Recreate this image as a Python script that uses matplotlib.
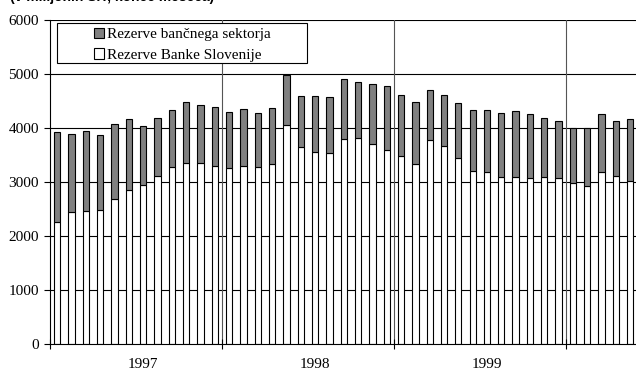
import numpy as np
import matplotlib.pyplot as plt
from matplotlib.patches import Patch, Rectangle

# --- Monthly reserves, Jan 1997 - May 2000 (mio SIT) ---
years = ['1997', '1998', '1999']
banka_slovenije = [
    2248, 2433, 2452, 2476, 2686, 2846, 2939, 3100, 3272, 3352, 3340, 3296,
    3248, 3290, 3272, 3333, 4044, 3643, 3550, 3531, 3790, 3815, 3692, 3580,
    3476, 3328, 3772, 3667, 3433, 3204, 3180, 3087, 3080, 3062, 3078, 3060,
    2969, 2914, 3180, 3099, 3012,
]
bancni_sektor = [
    1672, 1444, 1481, 1395, 1377, 1321, 1086, 1080, 1050, 1124, 1080, 1082,
    1037, 1050, 1006, 1037, 926, 944, 1030, 1032, 1106, 1025, 1117, 1192,
    1135, 1142, 926, 944, 1022, 1118, 1140, 1183, 1223, 1200, 1102, 1058,
    1031, 1080, 1073, 1025, 1143,
]

plt.rcParams['font.family'] = ['Liberation Serif', 'DejaVu Serif']

W, H = 636, 370
fig = plt.figure(figsize=(W / 100, H / 100), dpi=100)
ax = fig.add_axes([50 / W, 26.3 / H, 586 / W, 324 / H])

x = np.arange(len(banka_slovenije))
bs = np.array(banka_slovenije)
sek = np.array(bancni_sektor)
gray = '#808080'

# horizontal grid + year separators behind bars
for v in range(1000, 7000, 1000):
    ax.axhline(v, color='black', lw=0.8, zorder=0)
for b in (11.5, 23.5, 35.5):
    ax.axvline(b, color='#555555', lw=0.8, zorder=0)

ax.bar(x, bs, width=0.44, color='white', edgecolor='black', lw=0.8, zorder=2)
ax.bar(x, sek, width=0.44, bottom=bs, color=gray, edgecolor='black', lw=0.8, zorder=2)

ax.set_xlim(-0.5, 40.4)
ax.set_ylim(0, 6000)
ax.set_yticks(range(0, 7000, 1000))
ax.tick_params(axis='y', direction='out', length=4, width=0.8, pad=4, labelsize=11)

# year boundaries as ticks, year names between them
ax.set_xticks([-0.5, 11.5, 23.5, 35.5])
ax.set_xticklabels([])
ax.tick_params(axis='x', which='major', direction='inout', length=7, width=0.8)
ax.set_xticks([6, 18, 30], minor=True)
ax.set_xticklabels(years, minor=True)
ax.tick_params(axis='x', which='minor', length=0, pad=10, labelsize=11)

for s in ('top', 'right'):
    ax.spines[s].set_visible(False)
for s in ('left', 'bottom'):
    ax.spines[s].set_linewidth(0.8)

# legend with a wide framed box
fig.patches.append(Rectangle((57 / W, 1 - 63 / H), 250 / W, 40 / H,
                             transform=fig.transFigure, facecolor='white',
                             edgecolor='black', lw=0.8, zorder=5))
handles = [Patch(facecolor=gray, edgecolor='black', lw=0.8),
           Patch(facecolor='white', edgecolor='black', lw=0.8)]
leg = fig.legend(handles, ['Rezerve bančnega sektorja', 'Rezerve Banke Slovenije'],
                 loc='upper left', bbox_to_anchor=(94 / W, 1 - 28 / H),
                 frameon=False, fontsize=11, borderpad=0, borderaxespad=0,
                 handlelength=0.65, handleheight=0.65, handletextpad=0.2,
                 labelspacing=0.45)
leg.set_zorder(6)

fig.text(10 / W, 1 - 1 / H, '(v milijonih SIT, konec meseca)', fontsize=10,
         fontweight='bold', family=['Liberation Sans', 'DejaVu Sans'],
         va='baseline', ha='left')

fig.savefig('out.png', dpi=100)
